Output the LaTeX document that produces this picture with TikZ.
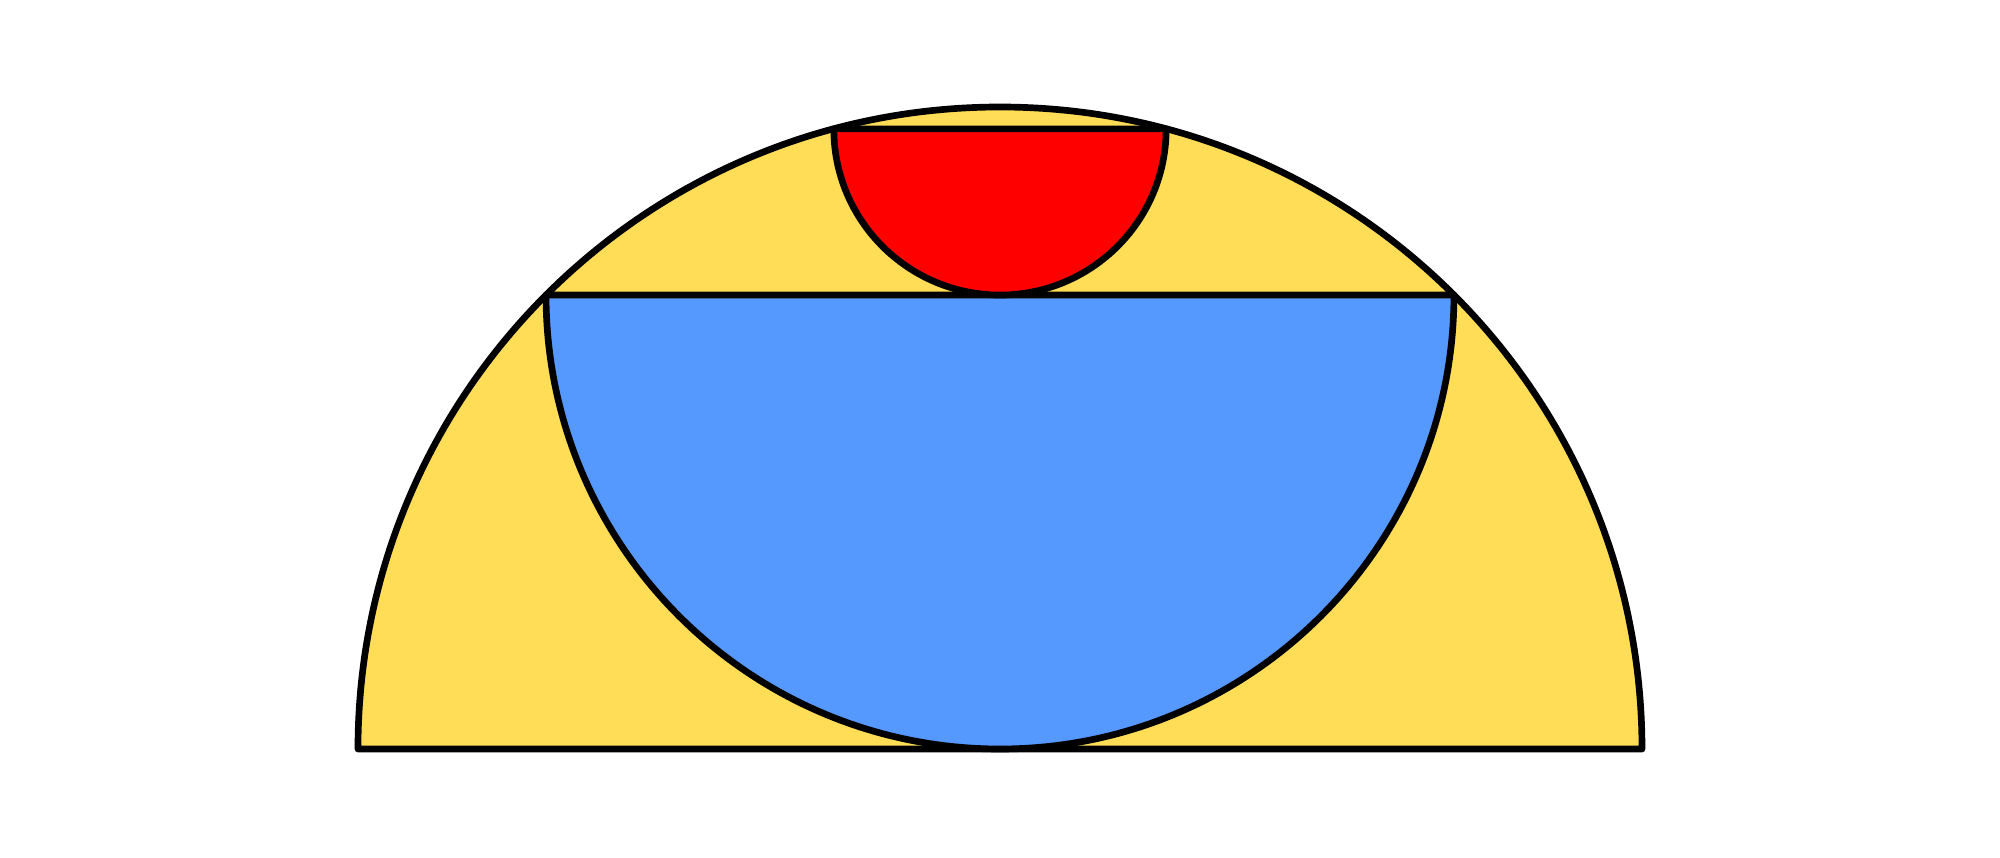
\documentclass[tikz,border=0pt]{standalone}
\usepackage{tikz}
\definecolor{bowlyellow}{RGB}{255,221,87}
\definecolor{bowlblue}{RGB}{85,153,255}
\definecolor{bowlred}{RGB}{255,0,0}
\begin{document}
\begin{tikzpicture}[line width=1.9pt,line join=round]
            \useasboundingbox(-10,-1.08)rectangle(10,7.49);
            \def\R{6.42}
            \filldraw[fill=bowlyellow](\R,0)arc(0:180:\R)--cycle;
            \filldraw[fill=bowlblue](135:\R)arc(180:360:{\R*cos(45)})--cycle;
            \filldraw[fill=bowlred](105:\R)arc(180:360:{\R*sin(15)})--cycle;
          \end{tikzpicture}
\end{document}
